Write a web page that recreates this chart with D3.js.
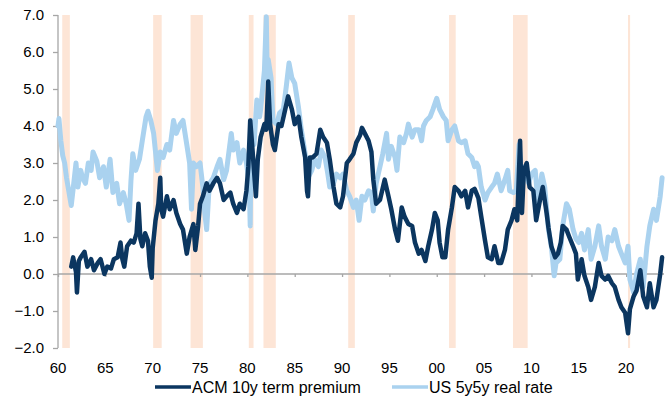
<!DOCTYPE html>
<html>
<head>
<meta charset="utf-8">
<script src="https://cdn.jsdelivr.net/npm/d3@7"></script>
<style>
  html, body { margin: 0; padding: 0; background: #fff; }
  svg { display: block; font-family: Arial, "Liberation Sans", sans-serif; }
</style>
</head>
<body>
<svg id="chart" width="669" height="398"></svg>
<script>
// Recession periods (decimal years)
const recessions = [
  [1960.45, 1961.25], [1970.05, 1970.95], [1974.0, 1975.3], [1980.15, 1980.65],
  [1981.7, 1983.0], [1990.65, 1991.35], [2001.3, 2002.0], [2008.05, 2009.6],
  [2020.2, 2020.42]
];

// ACM 10y term premium (%)
const termPremiumYears = [1961.4,1961.6,1961.9,1962.0,1962.2,1962.4,1962.8,1963.1,1963.5,1963.8,1964.2,1964.5,1964.9,1965.2,1965.6,1965.9,1966.3,1966.6,1966.8,1967.0,1967.3,1967.7,1968.0,1968.3,1968.5,1968.7,1968.9,1969.2,1969.5,1969.7,1969.9,1970.0,1970.3,1970.6,1970.8,1970.9,1971.1,1971.5,1971.8,1972.2,1972.5,1972.9,1973.2,1973.6,1973.9,1974.3,1974.5,1974.8,1975.0,1975.3,1975.7,1976.0,1976.4,1976.8,1977.1,1977.5,1977.8,1978.2,1978.5,1978.9,1979.2,1979.6,1979.9,1980.1,1980.3,1980.5,1980.9,1981.1,1981.4,1981.8,1982.0,1982.2,1982.4,1982.7,1982.9,1983.3,1983.6,1984.0,1984.3,1984.7,1985.0,1985.4,1985.7,1986.1,1986.3,1986.4,1986.6,1986.9,1987.3,1987.7,1988.0,1988.4,1988.7,1989.1,1989.4,1989.8,1990.1,1990.5,1990.8,1991.2,1991.5,1991.9,1992.1,1992.4,1992.8,1993.1,1993.3,1993.6,1994.0,1994.5,1994.9,1995.2,1995.6,1995.9,1996.3,1996.6,1997.0,1997.4,1997.7,1998.1,1998.4,1998.8,1999.1,1999.5,1999.8,2000.1,2000.3,2000.6,2000.9,2001.2,2001.6,2001.9,2002.3,2002.6,2003.0,2003.3,2003.7,2004.0,2004.4,2004.7,2005.1,2005.4,2005.8,2006.1,2006.5,2006.8,2007.2,2007.5,2007.9,2008.2,2008.5,2008.8,2009.0,2009.2,2009.5,2009.8,2010.2,2010.5,2010.9,2011.2,2011.6,2011.8,2012.1,2012.5,2012.8,2013.1,2013.3,2013.7,2014.0,2014.4,2014.7,2014.9,2015.1,2015.3,2015.6,2016.0,2016.3,2016.7,2017.1,2017.4,2017.8,2018.1,2018.5,2018.8,2019.2,2019.5,2019.9,2020.2,2020.4,2020.8,2021.1,2021.5,2021.8,2022.2,2022.5,2022.9,2023.2,2023.6,2023.8];
const termPremiumValues = [0.2,0.45,0.05,-0.5,0.35,0.45,0.6,0.2,0.4,0.1,0.3,0.4,0.0,0.2,0.15,0.4,0.45,0.85,0.4,0.2,0.75,0.9,0.85,1.1,1.9,0.95,0.75,1.1,0.9,0.2,-0.1,0.7,1.45,1.9,2.6,1.75,1.55,2.1,1.75,2.0,1.65,1.35,1.2,0.55,1.0,1.35,0.65,1.3,1.9,2.1,2.45,2.25,2.45,2.6,2.45,2.0,2.1,2.2,1.9,1.65,1.9,1.75,2.25,2.9,4.15,3.5,2.1,3.1,3.7,4.05,3.9,5.2,4.05,3.5,3.35,4.05,4.0,4.45,4.8,4.45,4.05,4.25,3.7,3.15,2.25,2.1,3.15,3.15,3.25,3.9,3.7,3.55,3.1,2.35,1.9,1.8,2.1,3.0,3.1,3.25,3.55,3.75,3.95,3.8,3.6,3.3,2.55,1.9,2.0,2.55,2.1,1.75,1.2,0.9,1.8,1.55,1.35,1.3,0.85,0.55,0.65,0.35,0.75,1.2,1.65,1.45,0.85,0.45,0.45,1.2,1.8,2.35,2.25,2.1,2.25,1.8,2.25,2.3,2.05,1.55,0.9,0.45,0.4,0.75,0.3,0.3,0.65,1.2,1.45,1.75,1.45,3.6,1.65,2.8,3.0,2.35,2.25,1.45,2.0,2.35,1.65,1.25,0.75,0.45,0.55,0.85,1.3,1.2,1.0,0.75,0.55,-0.15,0.1,0.4,-0.05,-0.35,-0.7,-0.35,0.3,-0.05,-0.15,-0.05,-0.25,-0.35,-0.7,-0.9,-1.05,-1.6,-0.95,-0.6,-0.45,0.1,-0.6,-0.9,-0.25,-0.9,-0.7,0.0,0.45];

// US 5y5y real rate (%)
const realRateYears = [1960.0,1960.1,1960.3,1960.5,1960.7,1960.9,1961.1,1961.3,1961.4,1961.6,1961.9,1962.1,1962.4,1962.6,1962.9,1963.2,1963.5,1963.7,1964.1,1964.4,1964.8,1965.1,1965.5,1965.8,1966.2,1966.5,1966.9,1967.2,1967.5,1967.7,1967.9,1968.2,1968.6,1968.9,1969.3,1969.5,1969.8,1970.1,1970.5,1970.8,1971.1,1971.5,1971.8,1972.2,1972.5,1972.9,1973.2,1973.6,1973.9,1974.1,1974.3,1974.6,1975.0,1975.3,1975.5,1975.7,1975.9,1976.0,1976.4,1976.8,1977.1,1977.5,1977.8,1978.3,1978.5,1978.9,1979.2,1979.6,1979.9,1980.2,1980.3,1980.4,1980.7,1981.0,1981.3,1981.4,1981.8,1982.0,1982.1,1982.2,1982.5,1982.7,1983.1,1983.4,1983.8,1984.1,1984.4,1984.7,1985.0,1985.4,1985.7,1986.1,1986.3,1986.4,1986.8,1987.1,1987.5,1987.8,1988.2,1988.5,1988.7,1989.1,1989.4,1989.8,1990.1,1990.5,1990.8,1991.2,1991.5,1991.8,1992.1,1992.4,1992.8,1993.1,1993.3,1993.6,1994.0,1994.3,1994.7,1994.9,1995.2,1995.6,1995.8,1996.1,1996.5,1996.8,1997.0,1997.4,1997.7,1998.1,1998.4,1998.6,1998.9,1999.3,1999.6,2000.0,2000.3,2000.7,2001.0,2001.2,2001.6,2001.9,2002.3,2002.6,2003.0,2003.3,2003.7,2004.0,2004.2,2004.4,2004.7,2005.1,2005.4,2005.8,2006.1,2006.4,2006.8,2007.2,2007.5,2007.7,2008.1,2008.4,2008.7,2009.0,2009.3,2009.7,2010.0,2010.4,2010.7,2011.1,2011.4,2011.8,2012.1,2012.4,2012.6,2013.0,2013.3,2013.7,2014.0,2014.4,2014.7,2015.0,2015.3,2015.6,2016.0,2016.3,2016.7,2017.1,2017.4,2017.8,2018.1,2018.5,2018.8,2019.2,2019.5,2019.9,2020.2,2020.4,2020.8,2021.1,2021.5,2021.8,2022.2,2022.5,2022.9,2023.2,2023.6,2023.8];
const realRateValues = [4.0,4.2,3.6,3.2,3.0,2.6,2.3,2.0,1.85,2.3,3.0,2.35,2.8,2.6,2.45,3.0,2.8,3.3,3.05,2.6,2.9,2.35,3.1,2.2,2.45,1.9,2.2,1.9,1.45,2.5,3.25,2.8,3.1,3.6,4.25,4.4,4.15,3.8,2.8,3.3,3.15,3.5,3.35,4.15,3.8,4.05,4.15,3.5,3.0,1.75,3.0,2.9,3.0,2.35,1.65,1.2,2.1,2.45,2.6,2.9,3.1,2.55,2.8,3.8,3.35,3.55,3.0,3.35,3.0,2.45,1.3,4.15,3.5,4.7,4.25,4.45,5.5,6.95,5.3,5.8,5.3,4.15,4.05,4.35,4.45,5.05,5.7,5.3,5.15,4.5,3.9,3.25,2.8,2.6,2.8,3.1,2.9,3.35,3.15,2.7,2.35,2.45,2.7,2.6,2.7,2.25,2.1,1.8,2.0,1.45,2.1,2.0,2.25,2.2,1.7,2.45,2.9,3.25,3.8,3.1,3.45,3.15,2.8,3.7,3.55,3.8,4.05,3.7,3.9,3.9,3.6,4.0,4.15,4.25,4.45,4.75,4.45,4.25,4.15,3.6,3.9,4.0,3.6,3.55,3.6,3.25,3.15,2.9,3.0,2.9,2.35,2.0,2.2,2.35,2.45,2.7,2.25,2.55,2.8,2.25,2.2,2.25,3.5,2.35,2.9,2.45,2.7,2.8,1.9,2.7,2.35,1.2,0.75,-0.05,0.3,0.4,1.3,1.9,1.75,1.2,0.95,0.85,1.1,0.65,1.2,0.4,0.75,1.3,0.75,0.4,1.0,0.9,1.2,0.75,0.55,0.3,0.75,-0.15,-0.5,0.0,0.4,-0.35,0.75,1.3,1.75,1.45,2.1,2.6];

const yTicks = [-2, -1, 0, 1, 2, 3, 4, 5, 6, 7];
const xTicks = [1960, 1965, 1970, 1975, 1980, 1985, 1990, 1995, 2000, 2005, 2010, 2015, 2020];
const seriesNames = ["ACM 10y term premium", "US 5y5y real rate"];

const colDark = "#0b3660";
const colLight = "#aad2ef";
const colRec = "#fde5d6";
const colAxis = "#a6a6a6";

const svg = d3.select("#chart");
const x = d3.scaleLinear().domain([1960, 2024]).range([58, 664]);
const y = d3.scaleLinear().domain([-2, 7]).range([348, 15]);

// recession shading
svg.append("g").selectAll("rect").data(recessions).join("rect")
  .attr("x", d => x(d[0]))
  .attr("width", d => Math.max(2, x(d[1]) - x(d[0])))
  .attr("y", y(7))
  .attr("height", y(-2) - y(7))
  .attr("fill", colRec);

// zero line with year ticks
const xAxis = svg.append("g")
  .attr("transform", `translate(0,${y(0)})`)
  .call(d3.axisBottom(x).tickValues(xTicks).tickSize(3).tickFormat(""));
xAxis.select(".domain").attr("stroke", colAxis).attr("stroke-width", 1.3)
  .attr("d", `M${x(1960)},0H${x(2024)}`);
xAxis.selectAll(".tick line").attr("stroke", colAxis).attr("stroke-width", 1.3);

// year labels along the bottom
svg.append("g").selectAll("text").data(xTicks).join("text")
  .attr("x", d => x(d))
  .attr("y", 373)
  .attr("text-anchor", "middle")
  .attr("font-size", 15)
  .attr("fill", "#000")
  .text(d => d3.format("02d")(d % 100));

// y axis
const yAxis = svg.append("g")
  .attr("transform", `translate(${x(1960)},0)`)
  .call(d3.axisLeft(y).tickValues(yTicks).tickSize(5).tickPadding(9).tickFormat(d3.format(".1f")));
yAxis.select(".domain").attr("stroke", colAxis).attr("stroke-width", 1.3)
  .attr("d", `M0,${y(-2)}V${y(7)}`);
yAxis.selectAll(".tick line").attr("stroke", colAxis).attr("stroke-width", 1.3);
yAxis.selectAll(".tick text").attr("font-size", 15).attr("fill", "#000")
  .attr("font-family", "Arial, 'Liberation Sans', sans-serif");

const line = d3.line().x(d => x(d[0])).y(d => y(d[1]));
const realRate = d3.zip(realRateYears, realRateValues);
const termPremium = d3.zip(termPremiumYears, termPremiumValues);

svg.append("path").datum(realRate)
  .attr("d", line).attr("fill", "none")
  .attr("stroke", colLight).attr("stroke-width", 5)
  .attr("stroke-linejoin", "round").attr("stroke-linecap", "round");

svg.append("path").datum(termPremium)
  .attr("d", line).attr("fill", "none")
  .attr("stroke", colDark).attr("stroke-width", 4.5)
  .attr("stroke-linejoin", "round").attr("stroke-linecap", "round");

// legend
const legend = svg.append("g");
const legendItems = [
  { name: seriesNames[0], color: colDark, x0: 155 },
  { name: seriesNames[1], color: colLight, x0: 392 }
];
legendItems.forEach(it => {
  legend.append("line")
    .attr("x1", it.x0).attr("x2", it.x0 + 36)
    .attr("y1", 387).attr("y2", 387)
    .attr("stroke", it.color).attr("stroke-width", 3.5);
  legend.append("text")
    .attr("x", it.x0 + 37).attr("y", 393)
    .attr("font-size", 16).attr("fill", "#000")
    .text(it.name);
});
</script>
</body>
</html>
